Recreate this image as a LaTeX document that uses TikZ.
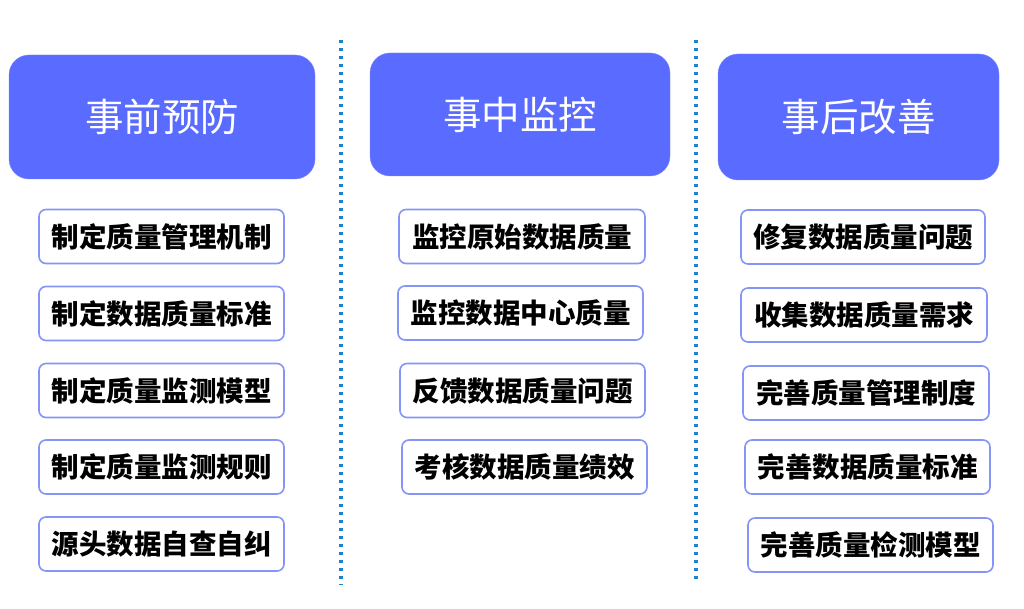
\documentclass[tikz,border=0pt]{standalone}
\usepackage{fontspec}
\setmainfont{Noto Sans CJK SC}
\usetikzlibrary{calc}
\definecolor{headblue}{HTML}{5A6BFF}
\definecolor{itemedge}{HTML}{8494F7}
\definecolor{dotblue}{HTML}{1A84CE}
\tikzset{
  headbox/.style={fill=headblue, draw=headblue!80, rounded corners=20pt, text=white, font=\fontsize{38.5}{42}\selectfont},
  itembox/.style={draw=itemedge, line width=1.6pt, fill=white, rounded corners=7pt, minimum height=54pt, font=\bfseries\fontsize{27.5}{31}\selectfont, inner sep=0pt},
  divider/.style={dotblue, line width=3.4pt, dash pattern=on 3.2pt off 4.8pt}
}
\begin{document}
\begin{tikzpicture}[x=1pt, y=-1pt]
			%%%%% START %%%%%
			
			\useasboundingbox[fill=white] (0, 0) rectangle (1024, 609);
			
			\node[headbox, minimum width=306pt, minimum height=124pt] (pre) at (162, 117) {事前预防};
			\node[headbox, minimum width=300pt, minimum height=123pt] (mid) at (520, 114.5) {事中监控};
			\node[headbox, minimum width=281pt, minimum height=126pt] (post) at (858.5, 117) {事后改善};
			
			\draw[divider] (341, 40) -- (341, 585);
			\draw[divider] (696, 40) -- (696, 583);
			
			\node[itembox, minimum width=245pt] (pre1) at (161.5, 236.5) {制定质量管理机制};
			\node[itembox, minimum width=245pt] (pre2) at (161.5, 313.5) {制定数据质量标准};
			\node[itembox, minimum width=245pt] (pre3) at (161.5, 390.5) {制定质量监测模型};
			\node[itembox, minimum width=245pt] (pre4) at (161.5, 467) {制定质量监测规则};
			\node[itembox, minimum width=245pt] (pre5) at (161.5, 544) {源头数据自查自纠};
			
			\node[itembox, minimum width=246pt] (mid1) at (522, 236.5) {监控原始数据质量};
			\node[itembox, minimum width=245pt] (mid2) at (520.5, 313) {监控数据中心质量};
			\node[itembox, minimum width=245pt] (mid3) at (522.5, 390.5) {反馈数据质量问题};
			\node[itembox, minimum width=245pt] (mid4) at (524.5, 467) {考核数据质量绩效};
			
			\node[itembox, minimum width=244pt] (post1) at (863, 237) {修复数据质量问题};
			\node[itembox, minimum width=246pt] (post2) at (864, 315) {收集数据质量需求};
			\node[itembox, minimum width=246pt] (post3) at (866, 393) {完善质量管理制度};
			\node[itembox, minimum width=245pt] (post4) at (867.5, 467) {完善数据质量标准};
			\node[itembox, minimum width=245pt] (post5) at (870.5, 545) {完善质量检测模型};
			
			%%%%% END %%%%%
\end{tikzpicture}
\end{document}
